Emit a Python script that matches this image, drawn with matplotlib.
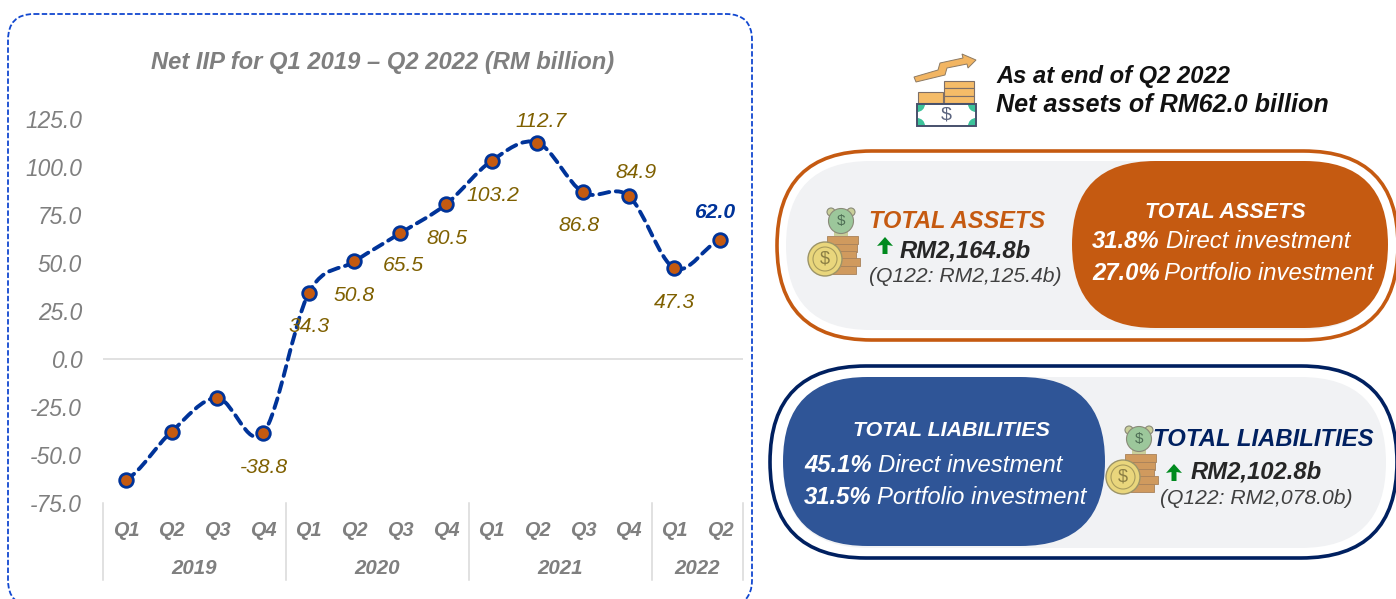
import matplotlib
matplotlib.use('Agg')
import matplotlib.pyplot as plt
from matplotlib.patches import Circle, FancyBboxPatch, PathPatch, Polygon, Rectangle, Wedge
from matplotlib.path import Path

plt.rcParams['font.family'] = ['Liberation Sans', 'DejaVu Sans']

# Data
quarters = ['Q1', 'Q2', 'Q3', 'Q4', 'Q1', 'Q2', 'Q3', 'Q4', 'Q1', 'Q2', 'Q3', 'Q4', 'Q1', 'Q2']
years = ['2019', '2020', '2021', '2022']
year_lengths = [4, 4, 4, 2]
net_iip = [-62.9, -37.8, -20.3, -38.8, 34.3, 50.8, 65.5, 80.5, 103.2, 112.7, 86.8, 84.9, 47.3, 62.0]
y_ticks = [125, 100, 75, 50, 25, 0, -25, -50, -75]

W, H = 1396, 599
GREY = '#7F7F7F'
ORANGE = '#C55A11'
NAVY = '#002060'
LINE_BLUE = '#003399'
PANEL = '#F1F2F4'
BLUE_FILL = '#2F5597'
DARK = '#262626'

fig = plt.figure(figsize=(W / 100, H / 100), dpi=100)

# overlay in reference pixels for the card, pills and icons
bg = fig.add_axes([0, 0, 1, 1])
bg.set_xlim(0, W)
bg.set_ylim(H, 0)
bg.axis('off')


def pill(x0, y0, x1, y1, **kw):
    r = (y1 - y0) / 2
    bg.add_patch(FancyBboxPatch((x0, y0), x1 - x0, y1 - y0,
                                boxstyle=f'round,pad=0,rounding_size={r}', **kw))


def txt(x, y, s, size, color, bold=False, ha='left'):
    bg.text(x, y + 2, s, fontsize=size, color=color, style='italic',
            fontweight='bold' if bold else 'normal', ha=ha, va='center', parse_math=False)


def up_arrow(cx, top, bottom):
    bg.add_patch(Polygon([(cx, top), (cx + 8, top + 9), (cx + 2.5, top + 8), (cx + 2.5, bottom),
                          (cx - 2.5, bottom), (cx - 2.5, top + 8), (cx - 8, top + 9)],
                         fc='#008A1E', ec='none'))


def coin_icon(dx, dy):
    edge = '#8A8A78'
    bg.add_patch(Circle((831 + dx, 212 + dy), 4, fc='#C9CF9A', ec=edge, lw=0.8))
    bg.add_patch(Circle((851 + dx, 212 + dy), 4, fc='#C9CF9A', ec=edge, lw=0.8))
    bg.add_patch(Rectangle((834 + dx, 232 + dy), 14, 4, fc='#C9CF9A', ec='none'))
    bg.add_patch(Circle((841 + dx, 221 + dy), 12.5, fc='#9CC79B', ec=edge, lw=0.8))
    bg.text(841 + dx, 221 + dy, '$', fontsize=11, color='#4E6E55', ha='center', va='center',
            parse_math=False)
    for x0, y0, w in [(827, 236, 31), (832, 244, 25), (832, 251, 24), (832, 258, 28), (832, 266, 24)]:
        bg.add_patch(Rectangle((x0 + dx, y0 + dy), w, 7.5, fc='#D09A5E', ec='#A9825A', lw=0.6))
    bg.add_patch(Circle((825 + dx, 259 + dy), 17, fc='#E9D67C', ec='#9C9468', lw=1))
    bg.add_patch(Circle((825 + dx, 259 + dy), 12, fc='none', ec='#A89B5C', lw=0.8))
    bg.text(825 + dx, 259 + dy, '$', fontsize=13, color='#8C7F45', ha='center', va='center',
            parse_math=False)


# chart card, runs off the bottom of the picture
bg.add_patch(FancyBboxPatch((8, 14), 744, 592, boxstyle='round,pad=0,rounding_size=26',
                            fc='white', ec='#1248D0', lw=1.3, ls=(0, (3, 1.3))))
txt(383, 60, 'Net IIP for Q1 2019 – Q2 2022 (RM billion)', 17.1, GREY, bold=True, ha='center')

# header on the right
arrow_pts = [(914, 77), (938, 70), (940, 63), (963, 58), (962, 54), (976, 60), (968, 68), (967, 64),
             (947, 68), (945, 75), (916, 82)]
bg.add_patch(Polygon(arrow_pts, fc='#F2B562', ec='#8D7A63', lw=0.7))
bg.add_patch(Rectangle((918, 92), 25, 11, fc='#F5BC68', ec='#7E6F68', lw=0.8))
for i in range(3):
    bg.add_patch(Rectangle((944, 81 + i * 7.4), 30, 7.4, fc='#F5BC68', ec='#7E6F68', lw=0.8))
bg.add_patch(Rectangle((917, 104), 59, 22, fc='white', ec='none'))
for cx, cy, t1 in [(917, 104, 0), (976, 104, 90), (917, 126, 270), (976, 126, 180)]:
    bg.add_patch(Wedge((cx, cy), 8, t1, t1 + 90, fc='#3CC39A', ec='none'))
bg.add_patch(Rectangle((917, 104), 59, 22, fc='none', ec='#46506B', lw=1.4))
bg.text(946, 115, '$', fontsize=14, color='#5C6580', ha='center', va='center', parse_math=False)
txt(996, 74, 'As at end of Q2 2022', 17.1, '#111111', bold=True)
txt(996, 103, 'Net assets of RM62.0 billion', 18.1, '#111111', bold=True)

# assets pill
pill(777, 151, 1398, 340, fc='white', ec=ORANGE, lw=2.6)
pill(786, 161, 1386, 330, fc=PANEL, ec='none')
pill(1072, 161, 1388, 328, fc=ORANGE, ec='none')
coin_icon(0, 0)
txt(869, 220, 'TOTAL ASSETS', 17, ORANGE, bold=True)
up_arrow(885, 237, 254)
txt(900, 249, 'RM2,164.8b', 17.2, DARK, bold=True)
txt(869, 275, '(Q122: RM2,125.4b)', 15.2, '#404040')
txt(1225, 211, 'TOTAL ASSETS', 15.5, 'white', bold=True, ha='center')
txt(1092, 239, '31.8%', 17.2, 'white', bold=True)
txt(1166, 239, 'Direct investment', 17.2, 'white')
txt(1092, 271, '27.0%', 17.2, 'white', bold=True)
txt(1164, 271, 'Portfolio investment', 17.2, 'white')

# liabilities pill
pill(770, 366, 1397, 558, fc='white', ec=NAVY, lw=2.6)
pill(783, 377, 1386, 548, fc=PANEL, ec='none')
pill(783, 377, 1105, 546, fc=BLUE_FILL, ec='none')
coin_icon(298, 218)
txt(1153, 438, 'TOTAL LIABILITIES', 17.2, NAVY, bold=True)
up_arrow(1174, 464, 481)
txt(1191, 470, 'RM2,102.8b', 17.2, DARK, bold=True)
txt(1160, 496, '(Q122: RM2,078.0b)', 15.2, '#404040')
txt(951, 428, 'TOTAL LIABILITIES', 15.4, 'white', bold=True, ha='center')
txt(804, 463, '45.1%', 17.2, 'white', bold=True)
txt(878, 463, 'Direct investment', 17.2, 'white')
txt(804, 495, '31.5%', 17.2, 'white', bold=True)
txt(877, 495, 'Portfolio investment', 17.2, 'white')

# line chart
ax = fig.add_axes([103 / W, 1 - 503 / H, 640 / W, 384 / H])
ax.patch.set_alpha(0)
ax.set_xlim(-0.5, len(net_iip) - 0.5)
ax.set_ylim(-75, 125)
for side in ax.spines:
    ax.spines[side].set_visible(False)
ax.axhline(0, color='#D9D9D9', lw=1.1, zorder=1)

ax.set_yticks(y_ticks)
ax.set_yticklabels([f'{v:.1f}' for v in y_ticks], fontsize=16.4, style='italic', color=GREY)
ax.tick_params(axis='y', length=0, pad=15)
ax.set_xticks(range(len(quarters)))
ax.set_xticklabels(quarters, fontsize=14.3, style='italic', fontweight='bold', color=GREY)
ax.tick_params(axis='x', length=0, pad=13)

# Excel style smoothed line, one bezier per segment
xs = list(range(len(net_iip)))
verts = [(xs[0], net_iip[0])]
codes = [Path.MOVETO]
for i in range(len(xs) - 1):
    y0 = net_iip[max(i - 1, 0)]
    y1, y2 = net_iip[i], net_iip[i + 1]
    y3 = net_iip[min(i + 2, len(xs) - 1)]
    verts += [(i + 1 / 3, y1 + (y2 - y0) / 6), (i + 2 / 3, y2 - (y3 - y1) / 6), (i + 1, y2)]
    codes += [Path.CURVE4] * 3
ax.add_patch(PathPatch(Path(verts, codes), fc='none', ec=LINE_BLUE, lw=2.8,
                       ls=(0, (2.6, 1.7)), capstyle='round', zorder=2))
ax.plot(xs, net_iip, ls='none', marker='o', ms=9.8, mfc=ORANGE, mec=LINE_BLUE, mew=2.0, zorder=3)

# data labels, first three quarters have none
offsets_px = {3: (1, -34), 4: (0, -33), 5: (0, -34), 6: (3, -32), 7: (1, -34), 8: (1, -35),
              9: (4, 21), 10: (-4, -33), 11: (7, 23), 12: (0, -34), 13: (-6, 27)}
for i, (dx, dy) in offsets_px.items():
    last = i == len(net_iip) - 1
    ax.annotate(f'{net_iip[i]:.1f}', (i, net_iip[i]), xytext=(dx * 0.72, dy * 0.72),
                textcoords='offset points', ha='center', va='center', fontsize=15.2,
                style='italic', color=LINE_BLUE if last else '#7F6000',
                fontweight='bold' if last else 'normal', zorder=4)

# year groups under the quarters
xform = ax.get_xaxis_transform()
start = 0
ax.plot([-0.5, -0.5], [0, -77 / 384], transform=xform, color='#D9D9D9', lw=1.1, clip_on=False)
for year, n in zip(years, year_lengths):
    end = start + n
    ax.plot([end - 0.5, end - 0.5], [0, -77 / 384], transform=xform, color='#D9D9D9', lw=1.1,
            clip_on=False)
    ax.text((start + end - 1) / 2, -66 / 384, year, transform=xform, fontsize=14.8, style='italic',
            fontweight='bold', color=GREY, ha='center', va='center')
    start = end

fig.savefig('out.png', dpi=100)
